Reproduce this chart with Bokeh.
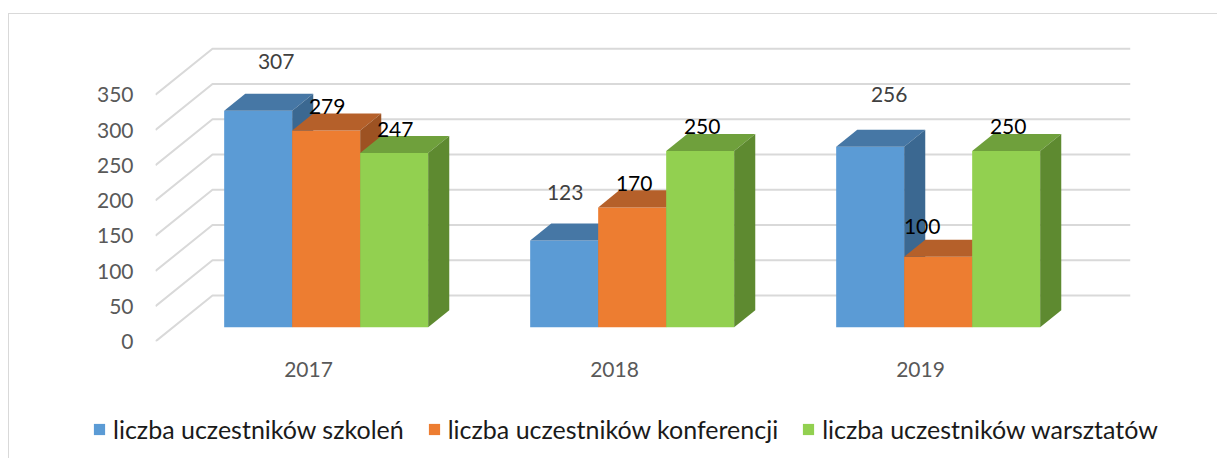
from bokeh.plotting import figure
from bokeh.layouts import column
from bokeh.models import (ColumnDataSource, FixedTicker, Legend, LegendItem, Range1d)
from bokeh.embed import file_html
from bokeh.resources import INLINE
from bokeh.core.properties import value

# ---------------- data ----------------
years = ["2017", "2018", "2019"]
series_names = ["liczba uczestników szkoleń",
                "liczba uczestników konferencji",
                "liczba uczestników warsztatów"]
szkolenia = [307, 123, 256]
konferencje = [279, 170, 100]
warsztaty = [247, 250, 250]
y_ticks = [0, 50, 100, 150, 200, 250, 300, 350]

# ---------------- styles ----------------
front_colors = ["#5B9BD5", "#ED7D31", "#92D050"]
top_colors = ["#4677A5", "#B5602A", "#6FA03C"]
side_colors = ["#3B6891", "#9D5222", "#5E8A30"]
label_colors = ["#404040", "#000000", "#000000"]
FONT = "Lato"

W, H1, H2 = 1208, 380, 64
FL, FR, FT, FB = 146, 1121, 26, 327      # frame edges of the chart (canvas px)
PX_X = 306.0                             # px per category
PX_Y = 0.705                             # px per unit of value
DX = 57 / PX_X                           # floor depth (x units)
DY = 46 / PX_Y                           # floor depth (y units)
T1, T2 = 0.31, 0.68                      # bar front / back depth fraction
BAR_W = 2 / 9
# data label offsets in px, [category][series]
LBL_DX = [[18, 1, 1], [1, 2, 2], [19, -16, 2]]
LBL_DY = [[49, 24, 24], [48, 24, 24], [52, 30, 24]]

x_end = (FR - FL) / PX_X
y_end = (FB - FT) / PX_Y

p = figure(width=W, height=H1, output_backend="svg", toolbar_location=None,
           x_range=Range1d(0, x_end), y_range=Range1d(0, y_end),
           min_border_left=FL, min_border_right=W - FR,
           min_border_top=FT, min_border_bottom=H1 - FB)
p.frame_align = False
p.xgrid.visible = False
p.ygrid.visible = False
p.outline_line_color = None
p.background_fill_color = "white"
p.border_fill_color = "white"

# gridlines: floor diagonal + back wall horizontal
ncat = len(years)
gxs = [[0, DX, ncat + DX] for v in y_ticks]
gys = [[v, v + DY, v + DY] for v in y_ticks]
p.multi_line(gxs, gys, line_color="#D9D9D9", line_width=2)

# bars (front, top, side faces)
values = [szkolenia, konferencje, warsztaty]
fx, fy, fc = [], [], []
lx, ly, lt, lc = [], [], [], []
ddx, ddy = (T2 - T1) * DX, (T2 - T1) * DY
for c in range(ncat):
    for s in range(len(values)):
        v = values[s][c]
        x0 = c + 0.5 - 1.5 * BAR_W + s * BAR_W + T1 * DX
        x1 = x0 + BAR_W
        yb = T1 * DY
        yt = v + T1 * DY
        fx.append([x0, x1, x1, x0]); fy.append([yb, yb, yt, yt]); fc.append(front_colors[s])
        fx.append([x0, x1, x1 + ddx, x0 + ddx]); fy.append([yt, yt, yt + ddy, yt + ddy]); fc.append(top_colors[s])
        fx.append([x1, x1 + ddx, x1 + ddx, x1]); fy.append([yb, yb + ddy, yt + ddy, yt]); fc.append(side_colors[s])
        lx.append((x0 + x1) / 2 + LBL_DX[c][s] / PX_X)
        ly.append(yt + LBL_DY[c][s] / PX_Y)
        lt.append(str(v))
        lc.append(label_colors[s])

p.patches("xs", "ys", source=ColumnDataSource(dict(xs=fx, ys=fy, color=fc)),
          fill_color="color", line_color=None)

p.text("x", "y", "text", source=ColumnDataSource(dict(x=lx, y=ly, text=lt, color=lc)),
       text_color="color", text_align="center", text_baseline="middle",
       text_font=value(FONT), text_font_size="21px")

# axes
for ax in (p.xaxis[0], p.yaxis[0]):
    ax.axis_line_color = None
    ax.major_tick_line_color = None
    ax.minor_tick_line_color = None
    ax.major_tick_in = 0
    ax.major_tick_out = 0
    ax.minor_tick_in = 0
    ax.minor_tick_out = 0
    ax.major_label_text_font = FONT
    ax.major_label_text_font_size = "21px"
    ax.major_label_text_color = "#595959"
p.yaxis.ticker = FixedTicker(ticks=y_ticks)
p.yaxis.major_label_standoff = 22
p.xaxis.ticker = FixedTicker(ticks=[i + 0.5 for i in range(ncat)])
p.xaxis.major_label_overrides = {i + 0.5: y for i, y in enumerate(years)}
p.xaxis.major_label_standoff = 20

# legend strip (separate figure under the chart)
leg = figure(width=W, height=H2, output_backend="svg", toolbar_location=None,
             x_axis_location=None, y_axis_location=None,
             x_range=Range1d(0, 1), y_range=Range1d(0, 1),
             min_border_left=0, min_border_right=0,
             min_border_top=0, min_border_bottom=0)
leg.frame_align = False
leg.xgrid.visible = False
leg.ygrid.visible = False
leg.outline_line_color = None
leg.border_fill_color = "white"
nan = float("nan")
items = []
for s, name in enumerate(series_names):
    # legend swatch only: no visible geometry
    r = leg.quad(left=[nan], right=[nan], bottom=[nan], top=[nan],
                 fill_color=front_colors[s], line_color=None)
    items.append(LegendItem(label=name, renderers=[r]))
legend = Legend(items=items, orientation="horizontal", location=(83, 14),
                glyph_width=14, glyph_height=14, label_standoff=7, spacing=23,
                padding=0, margin=0, border_line_color=None, background_fill_alpha=0,
                label_text_font=FONT, label_text_font_size="25px",
                label_text_color="#1A1A1A")
leg.add_layout(legend, "center")

layout = column(p, leg, spacing=0)
layout.margin = (13, 0, 0, 8)
layout.styles = {"border-top": "1px solid #D9D9D9", "border-left": "1px solid #D9D9D9"}

open("out.html", "w").write(file_html(layout, INLINE))
